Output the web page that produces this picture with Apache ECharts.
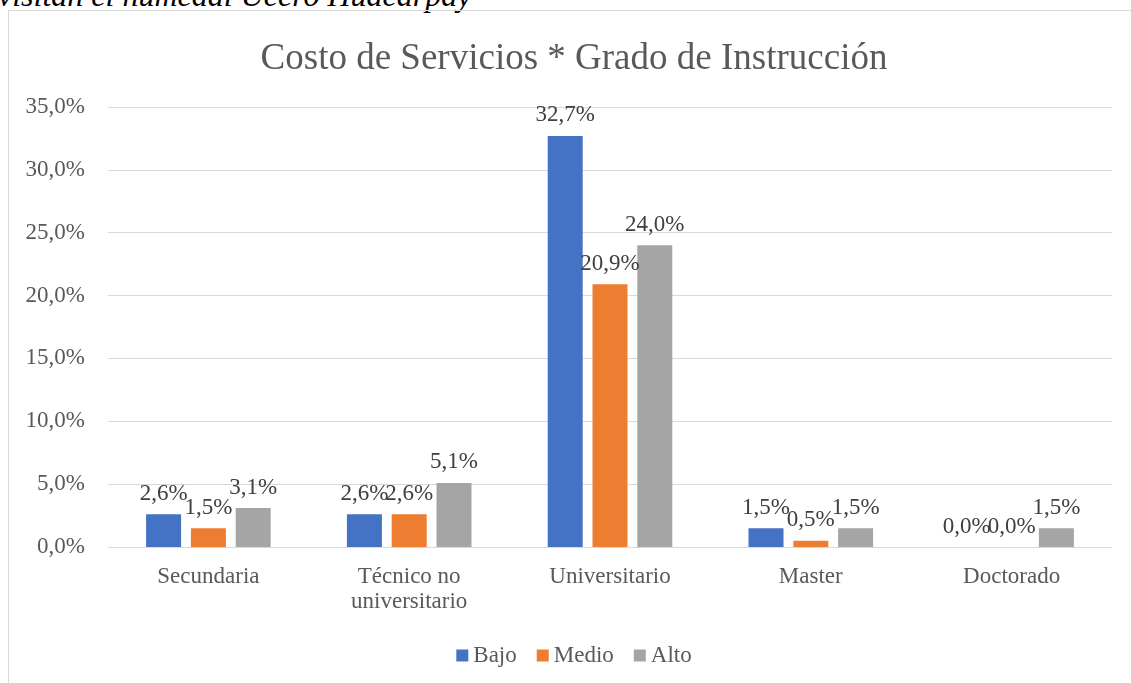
<!DOCTYPE html>
<html>
<head>
<meta charset="utf-8">
<script src="https://cdn.jsdelivr.net/npm/echarts@6/dist/echarts.min.js"></script>
<style>
  body { margin: 0; width: 1131px; height: 683px; overflow: hidden; background: #fff; position: relative; }
  .caption {
    position: absolute; left: -2px; top: -23px;
    font-family: 'Liberation Serif', serif; font-style: italic; font-size: 32px; color: #000;
    white-space: nowrap;
  }
  #chart {
    position: absolute; left: 8px; top: 10px; width: 1130px; height: 680px;
    border: 1px solid #d9d9d9; box-sizing: content-box;
  }
</style>
</head>
<body>
<div class="caption">visitan el humedal Ucero Huacarpay</div>
<div id="chart"></div>
<script>
// datos del gráfico
const categories = ['Secundaria', 'Técnico no\nuniversitario', 'Universitario', 'Master', 'Doctorado']
const bajo = [2.6, 2.6, 32.7, 1.5, 0.0]
const medio = [1.5, 2.6, 20.9, 0.5, 0.0]
const alto = [3.1, 5.1, 24.0, 1.5, 1.5]

const fmt = (v) => v.toFixed(1).replace('.', ',') + '%'
const serif = 'Liberation Serif'

const chart = echarts.init(document.getElementById('chart'))

const makeSeries = (name, data, color) => ({
  name: name,
  type: 'bar',
  data: data,
  barWidth: 35,
  barGap: '28%',
  itemStyle: { color: color },
  label: {
    show: true,
    position: 'top',
    distance: 9,
    formatter: (p) => fmt(p.value),
    fontFamily: serif,
    fontSize: 23,
    color: '#404040'
  }
})

chart.setOption({
  animation: false,
  title: {
    text: 'Costo de Servicios * Grado de Instrucción',
    left: 'center',
    top: 25,
    textStyle: { fontFamily: serif, fontSize: 37, fontWeight: 'normal', color: '#595959' }
  },
  legend: {
    top: 628,
    left: 'center',
    itemWidth: 12,
    itemHeight: 12,
    itemGap: 20,
    icon: 'rect',
    textStyle: { fontFamily: serif, fontSize: 23, color: '#595959' }
  },
  grid: { left: 99, right: 27, top: 96, bottom: 144 },
  xAxis: {
    type: 'category',
    data: categories,
    axisTick: { show: false },
    axisLine: { lineStyle: { color: '#d9d9d9', width: 1 } },
    axisLabel: { fontFamily: serif, fontSize: 23, color: '#595959', margin: 17, lineHeight: 25 }
  },
  yAxis: {
    type: 'value',
    min: 0,
    max: 35,
    interval: 5,
    axisLine: { show: false },
    axisTick: { show: false },
    splitLine: { lineStyle: { color: '#d9d9d9', width: 1 } },
    axisLabel: { formatter: (v) => fmt(v), fontFamily: serif, fontSize: 23, color: '#595959', margin: 23 }
  },
  series: [
    makeSeries('Bajo', bajo, '#4472C4'),
    makeSeries('Medio', medio, '#ED7D31'),
    makeSeries('Alto', alto, '#A5A5A5')
  ]
})
</script>
</body>
</html>
